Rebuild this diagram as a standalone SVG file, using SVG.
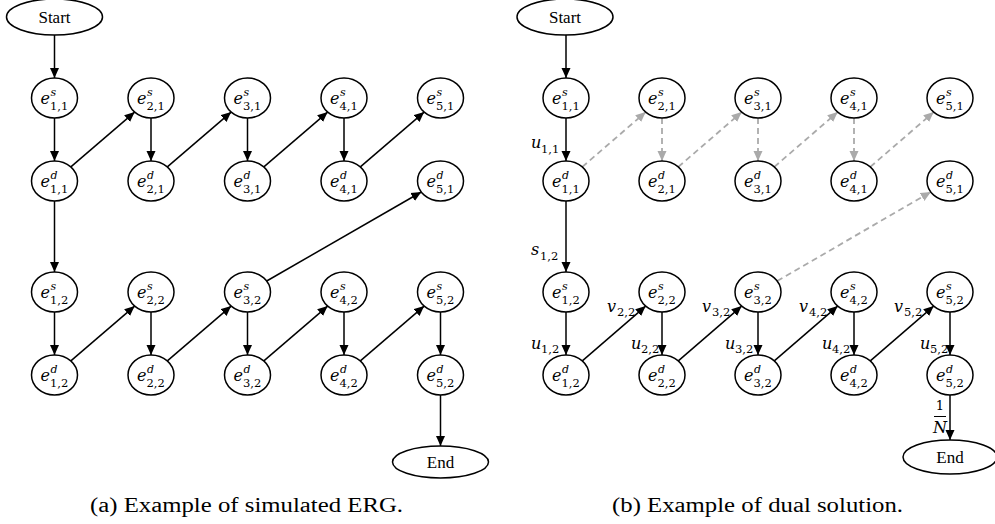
<svg xmlns="http://www.w3.org/2000/svg" width="995" height="524" viewBox="0 0 995 524">
<style>
ellipse{fill:#fff;stroke:#000;stroke-width:1.5}
.t{font-family:"Liberation Serif",serif;font-size:17px}
.m{font-family:"DejaVu Serif",serif;font-style:italic;font-size:16px}
.sp{font-family:"DejaVu Serif",serif;font-style:italic;font-size:11px}
.sb{font-family:"DejaVu Serif",serif;font-style:normal;font-size:11.5px}
.k{stroke:#000;stroke-width:1.5;fill:none;marker-end:url(#ah)}
.g{stroke:#aaa;stroke-width:1.8;fill:none;stroke-dasharray:6 4;marker-end:url(#ag)}
.cap{font-family:"Liberation Serif",serif;font-size:20px}
</style>
<defs>
<marker id="ah" viewBox="0 0 10 10" refX="10" refY="5" markerWidth="10" markerHeight="10" markerUnits="userSpaceOnUse" orient="auto"><path d="M0,0.5L10,5L0,9.5z" fill="#000"/></marker>
<marker id="ag" viewBox="0 0 10 10" refX="10" refY="5" markerWidth="10" markerHeight="10" markerUnits="userSpaceOnUse" orient="auto"><path d="M0,0.5L10,5L0,9.5z" fill="#aaa"/></marker>
</defs>

<g id="connectors">
<line class="k" x1="54.5" y1="35" x2="54.5" y2="78"/>
<line class="k" x1="54.5" y1="118" x2="54.5" y2="161"/>
<line class="k" x1="151" y1="118" x2="151" y2="161"/>
<line class="k" x1="247.5" y1="118" x2="247.5" y2="161"/>
<line class="k" x1="344" y1="118" x2="344" y2="161"/>
<line class="k" x1="70.85" y1="166.9" x2="134.65" y2="112.1"/>
<line class="k" x1="167.35" y1="166.9" x2="231.15" y2="112.1"/>
<line class="k" x1="263.85" y1="166.9" x2="327.65" y2="112.1"/>
<line class="k" x1="360.35" y1="166.9" x2="424.15" y2="112.1"/>
<line class="k" x1="54.5" y1="201" x2="54.5" y2="272"/>
<line class="k" x1="54.5" y1="312" x2="54.5" y2="355"/>
<line class="k" x1="151" y1="312" x2="151" y2="355"/>
<line class="k" x1="247.5" y1="312" x2="247.5" y2="355"/>
<line class="k" x1="344" y1="312" x2="344" y2="355"/>
<line class="k" x1="440.5" y1="312" x2="440.5" y2="355"/>
<line class="k" x1="70.85" y1="360.9" x2="134.65" y2="306.1"/>
<line class="k" x1="167.35" y1="360.9" x2="231.15" y2="306.1"/>
<line class="k" x1="263.85" y1="360.9" x2="327.65" y2="306.1"/>
<line class="k" x1="360.35" y1="360.9" x2="424.15" y2="306.1"/>
<line class="k" x1="266.7" y1="281" x2="421.3" y2="192"/>
<line class="k" x1="440.5" y1="395" x2="440.5" y2="446"/>
<line class="k" x1="566" y1="35" x2="566" y2="78"/>
<line class="k" x1="566" y1="118" x2="566" y2="161"/>
<line class="g" x1="662" y1="118" x2="662" y2="161"/>
<line class="g" x1="758" y1="118" x2="758" y2="161"/>
<line class="g" x1="854" y1="118" x2="854" y2="161"/>
<line class="g" x1="582.3" y1="166.9" x2="645.7" y2="112.1"/>
<line class="g" x1="678.3" y1="166.9" x2="741.7" y2="112.1"/>
<line class="g" x1="774.3" y1="166.9" x2="837.7" y2="112.1"/>
<line class="g" x1="870.3" y1="166.9" x2="933.7" y2="112.1"/>
<line class="k" x1="566" y1="201" x2="566" y2="272"/>
<line class="k" x1="566" y1="312" x2="566" y2="355"/>
<line class="k" x1="662" y1="312" x2="662" y2="355"/>
<line class="k" x1="758" y1="312" x2="758" y2="355"/>
<line class="k" x1="854" y1="312" x2="854" y2="355"/>
<line class="k" x1="950" y1="312" x2="950" y2="355"/>
<line class="k" x1="582.3" y1="360.9" x2="645.7" y2="306.1"/>
<line class="k" x1="678.3" y1="360.9" x2="741.7" y2="306.1"/>
<line class="k" x1="774.3" y1="360.9" x2="837.7" y2="306.1"/>
<line class="k" x1="870.3" y1="360.9" x2="933.7" y2="306.1"/>
<line class="g" x1="777.2" y1="281" x2="930.8" y2="192"/>
<line class="k" x1="950" y1="395" x2="950" y2="440"/>
</g>

<g id="edge-labels">
<text class="m" x="531" y="148">u<tspan class="sb" x="541" y="153">1,1</tspan></text>
<text class="m" x="531" y="255">s<tspan class="sb" x="540" y="260">1,2</tspan></text>
<text class="m" x="531" y="349">u<tspan class="sb" x="541" y="353">1,2</tspan></text>
<text class="m" x="631" y="349">u<tspan class="sb" x="641" y="353">2,2</tspan></text>
<text class="m" x="725" y="349">u<tspan class="sb" x="735" y="353">3,2</tspan></text>
<text class="m" x="822" y="349">u<tspan class="sb" x="832" y="353">4,2</tspan></text>
<text class="m" x="920" y="349">u<tspan class="sb" x="930" y="353">5,2</tspan></text>
<text class="m" x="607" y="312">v<tspan class="sb" x="617" y="316">2,2</tspan></text>
<text class="m" x="702" y="312">v<tspan class="sb" x="712" y="316">3,2</tspan></text>
<text class="m" x="799" y="312">v<tspan class="sb" x="809" y="316">4,2</tspan></text>
<text class="m" x="894" y="312">v<tspan class="sb" x="904" y="316">5,2</tspan></text>
<text x="940" y="410" text-anchor="middle" font-family="DejaVu Serif, serif" font-size="13">1</text>
<line x1="934" y1="416.5" x2="946" y2="416.5" stroke="#000" stroke-width="1"/>
<text class="m" x="940" y="433" text-anchor="middle" font-size="15">N</text>
</g>

<g id="L_start"><ellipse cx="54.5" cy="17" rx="48" ry="18"/><text class="t" x="54.5" y="23" text-anchor="middle">Start</text></g>
<g id="L_e11s"><ellipse cx="54.5" cy="98" rx="23" ry="20"/><text class="m" x="40.5" y="104">e</text><text class="sp" x="50.5" y="96">s</text><text class="sb" x="50" y="110">1,1</text></g>
<g id="L_e21s"><ellipse cx="151" cy="98" rx="23" ry="20"/><text class="m" x="137" y="104">e</text><text class="sp" x="147" y="96">s</text><text class="sb" x="146.5" y="110">2,1</text></g>
<g id="L_e31s"><ellipse cx="247.5" cy="98" rx="23" ry="20"/><text class="m" x="233.5" y="104">e</text><text class="sp" x="243.5" y="96">s</text><text class="sb" x="243" y="110">3,1</text></g>
<g id="L_e41s"><ellipse cx="344" cy="98" rx="23" ry="20"/><text class="m" x="330" y="104">e</text><text class="sp" x="340" y="96">s</text><text class="sb" x="339.5" y="110">4,1</text></g>
<g id="L_e51s"><ellipse cx="440.5" cy="98" rx="23" ry="20"/><text class="m" x="426.5" y="104">e</text><text class="sp" x="436.5" y="96">s</text><text class="sb" x="436" y="110">5,1</text></g>
<g id="L_e11d"><ellipse cx="54.5" cy="181" rx="23" ry="20"/><text class="m" x="40.5" y="187">e</text><text class="sp" x="50.5" y="179">d</text><text class="sb" x="50" y="193">1,1</text></g>
<g id="L_e21d"><ellipse cx="151" cy="181" rx="23" ry="20"/><text class="m" x="137" y="187">e</text><text class="sp" x="147" y="179">d</text><text class="sb" x="146.5" y="193">2,1</text></g>
<g id="L_e31d"><ellipse cx="247.5" cy="181" rx="23" ry="20"/><text class="m" x="233.5" y="187">e</text><text class="sp" x="243.5" y="179">d</text><text class="sb" x="243" y="193">3,1</text></g>
<g id="L_e41d"><ellipse cx="344" cy="181" rx="23" ry="20"/><text class="m" x="330" y="187">e</text><text class="sp" x="340" y="179">d</text><text class="sb" x="339.5" y="193">4,1</text></g>
<g id="L_e51d"><ellipse cx="440.5" cy="181" rx="23" ry="20"/><text class="m" x="426.5" y="187">e</text><text class="sp" x="436.5" y="179">d</text><text class="sb" x="436" y="193">5,1</text></g>
<g id="L_e12s"><ellipse cx="54.5" cy="292" rx="23" ry="20"/><text class="m" x="40.5" y="298">e</text><text class="sp" x="50.5" y="290">s</text><text class="sb" x="50" y="304">1,2</text></g>
<g id="L_e22s"><ellipse cx="151" cy="292" rx="23" ry="20"/><text class="m" x="137" y="298">e</text><text class="sp" x="147" y="290">s</text><text class="sb" x="146.5" y="304">2,2</text></g>
<g id="L_e32s"><ellipse cx="247.5" cy="292" rx="23" ry="20"/><text class="m" x="233.5" y="298">e</text><text class="sp" x="243.5" y="290">s</text><text class="sb" x="243" y="304">3,2</text></g>
<g id="L_e42s"><ellipse cx="344" cy="292" rx="23" ry="20"/><text class="m" x="330" y="298">e</text><text class="sp" x="340" y="290">s</text><text class="sb" x="339.5" y="304">4,2</text></g>
<g id="L_e52s"><ellipse cx="440.5" cy="292" rx="23" ry="20"/><text class="m" x="426.5" y="298">e</text><text class="sp" x="436.5" y="290">s</text><text class="sb" x="436" y="304">5,2</text></g>
<g id="L_e12d"><ellipse cx="54.5" cy="375" rx="23" ry="20"/><text class="m" x="40.5" y="381">e</text><text class="sp" x="50.5" y="373">d</text><text class="sb" x="50" y="387">1,2</text></g>
<g id="L_e22d"><ellipse cx="151" cy="375" rx="23" ry="20"/><text class="m" x="137" y="381">e</text><text class="sp" x="147" y="373">d</text><text class="sb" x="146.5" y="387">2,2</text></g>
<g id="L_e32d"><ellipse cx="247.5" cy="375" rx="23" ry="20"/><text class="m" x="233.5" y="381">e</text><text class="sp" x="243.5" y="373">d</text><text class="sb" x="243" y="387">3,2</text></g>
<g id="L_e42d"><ellipse cx="344" cy="375" rx="23" ry="20"/><text class="m" x="330" y="381">e</text><text class="sp" x="340" y="373">d</text><text class="sb" x="339.5" y="387">4,2</text></g>
<g id="L_e52d"><ellipse cx="440.5" cy="375" rx="23" ry="20"/><text class="m" x="426.5" y="381">e</text><text class="sp" x="436.5" y="373">d</text><text class="sb" x="436" y="387">5,2</text></g>
<g id="L_end"><ellipse cx="440.5" cy="462" rx="48" ry="16"/><text class="t" x="440.5" y="468" text-anchor="middle">End</text></g>

<g id="R_start"><ellipse cx="565" cy="17" rx="48" ry="18"/><text class="t" x="565" y="23" text-anchor="middle">Start</text></g>
<g id="R_e11s"><ellipse cx="566" cy="98" rx="23" ry="20"/><text class="m" x="552" y="104">e</text><text class="sp" x="562" y="96">s</text><text class="sb" x="561.5" y="110">1,1</text></g>
<g id="R_e21s"><ellipse cx="662" cy="98" rx="23" ry="20"/><text class="m" x="648" y="104">e</text><text class="sp" x="658" y="96">s</text><text class="sb" x="657.5" y="110">2,1</text></g>
<g id="R_e31s"><ellipse cx="758" cy="98" rx="23" ry="20"/><text class="m" x="744" y="104">e</text><text class="sp" x="754" y="96">s</text><text class="sb" x="753.5" y="110">3,1</text></g>
<g id="R_e41s"><ellipse cx="854" cy="98" rx="23" ry="20"/><text class="m" x="840" y="104">e</text><text class="sp" x="850" y="96">s</text><text class="sb" x="849.5" y="110">4,1</text></g>
<g id="R_e51s"><ellipse cx="950" cy="98" rx="23" ry="20"/><text class="m" x="936" y="104">e</text><text class="sp" x="946" y="96">s</text><text class="sb" x="945.5" y="110">5,1</text></g>
<g id="R_e11d"><ellipse cx="566" cy="181" rx="23" ry="20"/><text class="m" x="552" y="187">e</text><text class="sp" x="562" y="179">d</text><text class="sb" x="561.5" y="193">1,1</text></g>
<g id="R_e21d"><ellipse cx="662" cy="181" rx="23" ry="20"/><text class="m" x="648" y="187">e</text><text class="sp" x="658" y="179">d</text><text class="sb" x="657.5" y="193">2,1</text></g>
<g id="R_e31d"><ellipse cx="758" cy="181" rx="23" ry="20"/><text class="m" x="744" y="187">e</text><text class="sp" x="754" y="179">d</text><text class="sb" x="753.5" y="193">3,1</text></g>
<g id="R_e41d"><ellipse cx="854" cy="181" rx="23" ry="20"/><text class="m" x="840" y="187">e</text><text class="sp" x="850" y="179">d</text><text class="sb" x="849.5" y="193">4,1</text></g>
<g id="R_e51d"><ellipse cx="950" cy="181" rx="23" ry="20"/><text class="m" x="936" y="187">e</text><text class="sp" x="946" y="179">d</text><text class="sb" x="945.5" y="193">5,1</text></g>
<g id="R_e12s"><ellipse cx="566" cy="292" rx="23" ry="20"/><text class="m" x="552" y="298">e</text><text class="sp" x="562" y="290">s</text><text class="sb" x="561.5" y="304">1,2</text></g>
<g id="R_e22s"><ellipse cx="662" cy="292" rx="23" ry="20"/><text class="m" x="648" y="298">e</text><text class="sp" x="658" y="290">s</text><text class="sb" x="657.5" y="304">2,2</text></g>
<g id="R_e32s"><ellipse cx="758" cy="292" rx="23" ry="20"/><text class="m" x="744" y="298">e</text><text class="sp" x="754" y="290">s</text><text class="sb" x="753.5" y="304">3,2</text></g>
<g id="R_e42s"><ellipse cx="854" cy="292" rx="23" ry="20"/><text class="m" x="840" y="298">e</text><text class="sp" x="850" y="290">s</text><text class="sb" x="849.5" y="304">4,2</text></g>
<g id="R_e52s"><ellipse cx="950" cy="292" rx="23" ry="20"/><text class="m" x="936" y="298">e</text><text class="sp" x="946" y="290">s</text><text class="sb" x="945.5" y="304">5,2</text></g>
<g id="R_e12d"><ellipse cx="566" cy="375" rx="23" ry="20"/><text class="m" x="552" y="381">e</text><text class="sp" x="562" y="373">d</text><text class="sb" x="561.5" y="387">1,2</text></g>
<g id="R_e22d"><ellipse cx="662" cy="375" rx="23" ry="20"/><text class="m" x="648" y="381">e</text><text class="sp" x="658" y="373">d</text><text class="sb" x="657.5" y="387">2,2</text></g>
<g id="R_e32d"><ellipse cx="758" cy="375" rx="23" ry="20"/><text class="m" x="744" y="381">e</text><text class="sp" x="754" y="373">d</text><text class="sb" x="753.5" y="387">3,2</text></g>
<g id="R_e42d"><ellipse cx="854" cy="375" rx="23" ry="20"/><text class="m" x="840" y="381">e</text><text class="sp" x="850" y="373">d</text><text class="sb" x="849.5" y="387">4,2</text></g>
<g id="R_e52d"><ellipse cx="950" cy="375" rx="23" ry="20"/><text class="m" x="936" y="381">e</text><text class="sp" x="946" y="373">d</text><text class="sb" x="945.5" y="387">5,2</text></g>
<g id="R_end"><ellipse cx="950" cy="457" rx="47" ry="17"/><text class="t" x="950" y="463" text-anchor="middle">End</text></g>

<g id="captions">
<text class="cap" x="90" y="512" textLength="313" lengthAdjust="spacingAndGlyphs">(a) Example of simulated ERG.</text>
<text class="cap" x="612" y="512" textLength="291" lengthAdjust="spacingAndGlyphs">(b) Example of dual solution.</text>
</g>
</svg>
